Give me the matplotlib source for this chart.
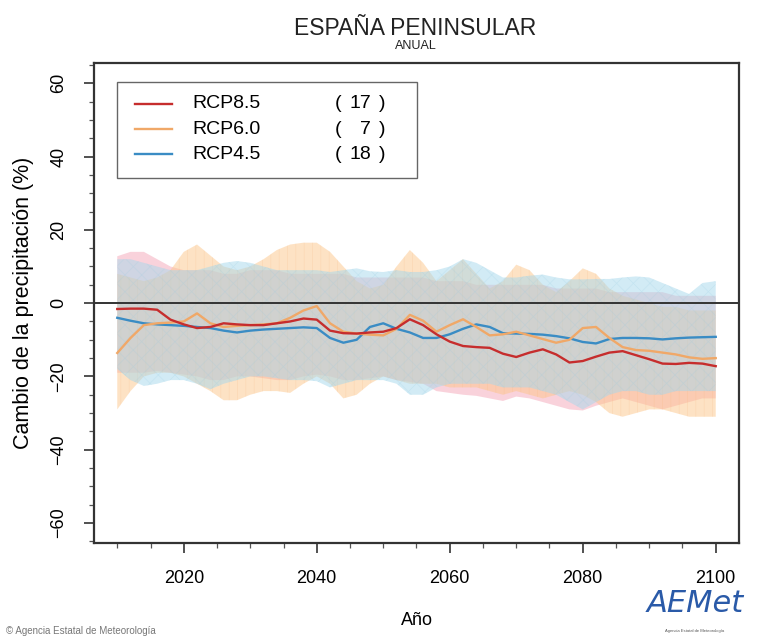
import matplotlib
matplotlib.use('Agg')
import matplotlib.pyplot as plt
from matplotlib.patches import Rectangle
from matplotlib.ticker import MultipleLocator

plt.rcParams['font.family'] = ['Liberation Sans', 'DejaVu Sans']
plt.rcParams['hatch.linewidth'] = 0.5

years = list(range(2010, 2101, 2))

mean_85 = [-1.6, -1.5, -1.5, -1.8, -4.5, -5.8, -6.8, -6.5, -5.5, -5.8, -6.0, -6.0, -5.5, -5.0, -4.2, -4.5,
           -7.5, -8.2, -8.3, -8.0, -7.8, -6.8, -4.4, -6.0, -8.5, -10.5, -11.7, -12.0, -12.2, -13.8, -14.7,
           -13.5, -12.6, -14.0, -16.2, -15.8, -14.6, -13.5, -13.1, -14.2, -15.3, -16.5, -16.6, -16.3, -16.5, -17.2]
mean_60 = [-13.6, -9.5, -6.0, -5.5, -5.3, -5.0, -2.8, -5.5, -6.5, -6.2, -6.0, -5.8, -5.5, -4.0, -2.0, -0.8,
           -5.5, -7.8, -8.3, -8.6, -8.8, -7.0, -3.2, -4.8, -7.8, -6.0, -4.4, -6.5, -8.8, -8.5, -7.8,
           -8.8, -9.8, -10.8, -10.0, -6.8, -6.5, -9.5, -12.0, -12.8, -13.0, -13.5, -14.0, -14.8, -15.2, -15.0]
mean_45 = [-4.0, -4.8, -5.5, -5.8, -6.0, -6.2, -6.5, -6.8, -7.5, -8.0, -7.5, -7.2, -7.0, -6.8, -6.6, -6.8,
           -9.5, -10.8, -10.0, -6.5, -5.5, -7.0, -8.0, -9.5, -9.5, -8.5, -7.0, -5.8, -6.5, -8.2, -8.3,
           -8.4, -8.6, -9.0, -9.6, -10.6, -11.0, -9.8, -9.5, -9.5, -9.6, -9.9, -9.6, -9.4, -9.3, -9.2]

upper_85 = [12.8, 14, 14, 12, 10, 9, 9, 9, 8, 8, 9, 9, 9, 8, 8, 8,
            8, 8, 7, 7, 7, 7, 7, 7, 6, 6, 6, 5, 5, 5, 5,
            5, 5, 4, 4, 4, 4, 3, 3, 3, 3, 3, 2, 2, 2, 2]
lower_85 = [-19, -19, -19, -18.5, -19, -19.5, -20, -21, -21, -20, -20, -20.5, -21, -21, -20, -19.5,
            -20, -21, -21, -20.5, -20, -21, -21.5, -22, -24, -24.5, -25, -25.3, -26, -26.7, -25.5,
            -26, -27, -28, -29, -29.3, -28, -27, -26, -27, -28, -29, -28, -27, -26, -26]
upper_60 = [8, 7, 6, 7, 9, 14, 16, 13, 10, 9, 10, 12, 14.5, 16, 16.5, 16.5,
            14, 10, 6, 4, 5, 10, 14.5, 11, 6, 9, 12, 8, 4, 6, 10.5,
            9, 5, 3, 6, 9.5, 8, 4, 2, 1, 0, -1, -1, -2, -2, -2]
lower_60 = [-29, -24, -20, -19, -19, -20, -22, -24, -26.5, -26.5, -25, -24, -24, -24.5, -22, -20,
            -22, -26, -25, -22, -20, -21, -22, -22, -22, -23, -23, -23, -24, -25, -24,
            -25, -26, -25, -24, -25, -27, -30, -31, -30, -29, -29, -30, -31, -31, -31]
upper_45 = [12, 12, 11, 10, 9, 9, 9, 10, 11, 11.5, 11, 10, 9, 9, 9, 9,
            8.5, 9, 9.5, 8.7, 8.5, 9, 8.5, 8.5, 9, 10, 12, 11, 9, 7, 7,
            7.5, 7.8, 7, 6.5, 6.5, 6.6, 6.6, 7, 7.3, 7, 5.5, 4, 2.5, 5.5, 6]
lower_45 = [-18, -21, -22.6, -22, -21, -21, -22, -23.5, -22, -21, -20, -20, -20.5, -21, -21, -21.3,
            -23, -22, -21, -21, -21, -22, -25, -25, -23, -22, -22, -22, -22, -23, -23,
            -23, -24, -25, -27, -29, -27, -25, -24, -24, -25, -25, -24, -24, -24, -24]

names = ['RCP8.5', 'RCP6.0', 'RCP4.5']
counts = [17, 7, 18]
line_colors = ['#c62d2d', '#f0a868', '#3a8cc4']
band_colors = ['#f4a6b8', '#fdc68a', '#a6d8ec']
hatch_colors = ['#f4a6b8', '#f5b070', '#8cc8e0']
hatches = [None, '||', 'xx']

fig = plt.figure(figsize=(7.61, 6.39), dpi=100)
ax = fig.add_axes([0.1235, 0.150, 0.8476, 0.7512])

bands = [(lower_85, upper_85), (lower_60, upper_60), (lower_45, upper_45)]
for (lo, hi), fc, hc, h in zip(bands, band_colors, hatch_colors, hatches):
    ax.fill_between(years, lo, hi, facecolor=fc, alpha=0.5, linewidth=0)
    if h:
        ax.fill_between(years, lo, hi, facecolor='none', edgecolor=hc, hatch=h,
                        alpha=0.2, linewidth=0)

ax.axhline(0, color='#333333', linewidth=1.4, zorder=3)

for mean, c in zip([mean_85, mean_60, mean_45][::-1], line_colors[::-1]):
    ax.plot(years, mean, color=c, linewidth=1.7, zorder=4)

ax.set_xlim(2006.5, 2103.5)
ax.set_ylim(-65.5, 65.5)
ax.xaxis.set_major_locator(MultipleLocator(20))
ax.xaxis.set_minor_locator(MultipleLocator(5))
ax.yaxis.set_major_locator(MultipleLocator(20))
ax.yaxis.set_minor_locator(MultipleLocator(5))
ax.tick_params(which='major', length=7, width=1.2, color='#333333', labelsize=13, pad=12)
ax.tick_params(which='minor', length=3.5, width=0.9, color='#555555')
ax.tick_params(axis='x', which='both', top=False)
ax.tick_params(axis='y', which='both', right=False)
for lab in ax.get_yticklabels():
    lab.set_rotation(90)
    lab.set_verticalalignment('center')
for sp in ax.spines.values():
    sp.set_color('#333333')
    sp.set_linewidth(1.6)

ax.set_xlabel('Año', fontsize=13, labelpad=18)
ax.set_ylabel('Cambio de la precipitación (%)', fontsize=15.5, labelpad=12)

fig.text(0.546, 0.956, 'ESPAÑA PENINSULAR', ha='center', va='center', fontsize=16.5, color='#222222')
fig.text(0.546, 0.928, 'ANUAL', ha='center', va='center', fontsize=9, color='#222222')

# legend box
ax.add_patch(Rectangle((0.0357, 0.760), 0.465, 0.200, transform=ax.transAxes,
                       facecolor='white', edgecolor='#666666', linewidth=1.0, zorder=5))
row_y = [0.915, 0.8625, 0.810]
for name, n, c, y in zip(names, counts, line_colors, row_y):
    ax.plot([0.0636, 0.121], [y, y], transform=ax.transAxes, color=c, linewidth=1.7, zorder=6)
    ax.text(0.152, y, name, transform=ax.transAxes, va='center', fontsize=14, zorder=6)
    ax.text(0.374, y, '(', transform=ax.transAxes, va='center', fontsize=14, zorder=6)
    ax.text(0.430, y, str(n), transform=ax.transAxes, va='center', ha='right', fontsize=14, zorder=6)
    ax.text(0.442, y, ')', transform=ax.transAxes, va='center', fontsize=14, zorder=6)

fig.text(0.008, 0.013, '© Agencia Estatal de Meteorología', fontsize=7, color='#777777',
         va='center', ha='left')
fig.text(0.913, 0.055, 'AEMet', fontsize=22, color='#2a5aa8', style='italic',
         va='center', ha='center', family='DejaVu Sans', fontweight='light')
fig.text(0.913, 0.012, 'Agencia Estatal de Meteorología', fontsize=3, color='#555555',
         va='center', ha='center')

fig.savefig('out.png', dpi=100)
